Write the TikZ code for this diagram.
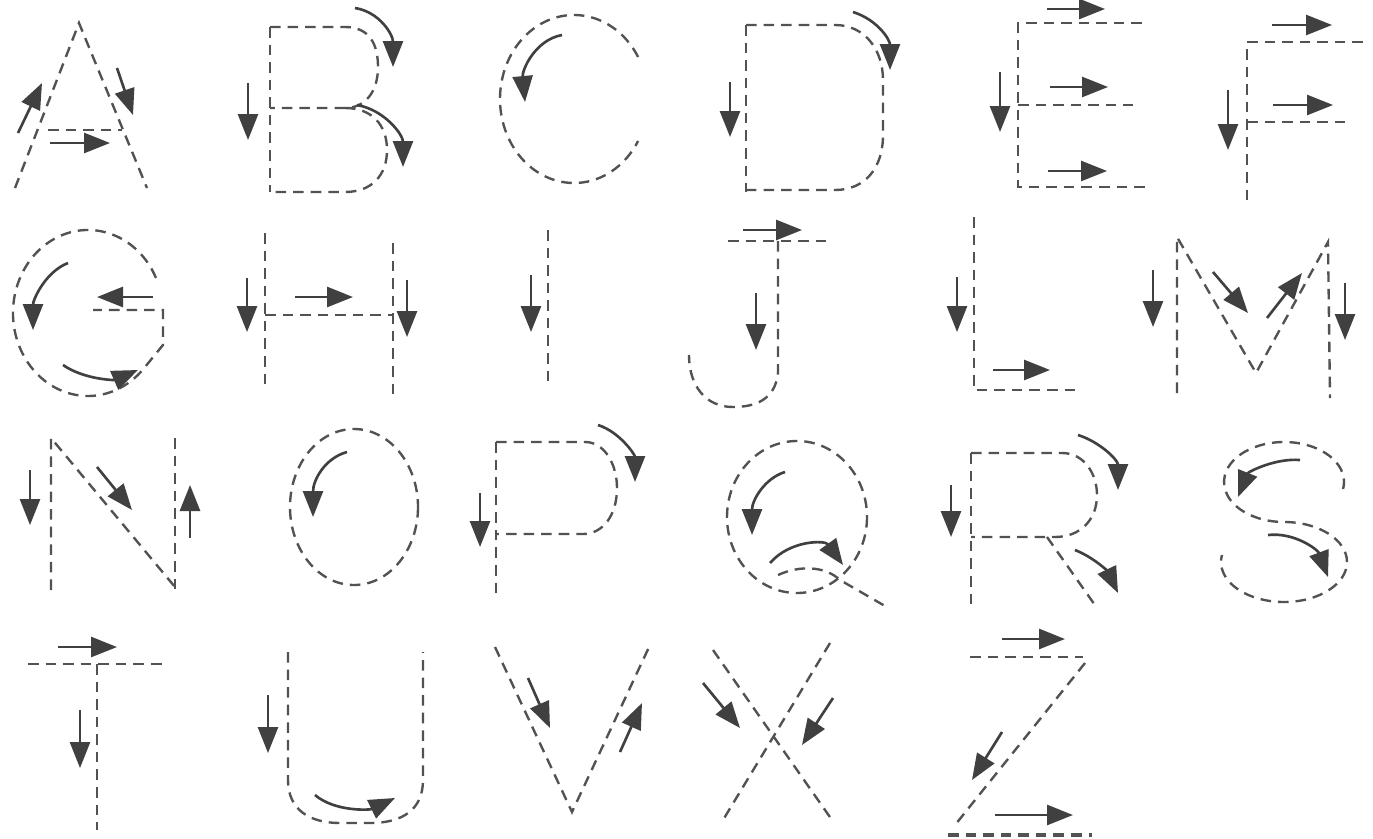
\documentclass[tikz,border=0pt]{standalone}
\usepackage{tikz}
\usetikzlibrary{arrows.meta}

\begin{document}
\begin{tikzpicture}[
    x=0.2mm, y=-0.2mm,
    guide/.style={draw=black!68, line width=1.35pt, dash pattern=on 6pt off 4pt},
    arrow/.style={-{Triangle[length=5.2mm, width=4mm]}, line width=1.5pt, draw=black!75}
]
    \useasboundingbox [fill=white] (0,0) rectangle (1373,838);

    % A
    \draw [guide] (15,188) -- (79,23) -- (147,188);
    \draw [guide] (48,130) -- (122,130);
    \draw [arrow] (18,133) -- (42,83);
    \draw [arrow] (117,68) -- (133,115);
    \draw [arrow] (50,143) -- (110,143);

    % B
    \draw [guide] (270,27) -- (270,192);
    \draw [guide] (270,27) -- (345,27) .. controls (370,27) and (378,45) .. (378,67)
        .. controls (378,92) and (365,108) .. (345,108) -- (270,108);
    \draw [guide] (345,108) .. controls (372,108) and (387,125) .. (387,150)
        .. controls (387,175) and (372,192) .. (345,192) -- (270,192);
    \draw [arrow] (248,83) -- (248,140);
    \draw [arrow] (355,8) .. controls (380,12) and (393,35) .. (393,67);
    \draw [arrow] (357,105) .. controls (385,110) and (403,135) .. (403,167);

    % C
    \draw [guide] (574,99) ++(-30:74 and 84) arc [start angle=-30, end angle=-330, x radius=74, y radius=84];
    \draw [arrow] (562,35) .. controls (535,40) and (522,70) .. (525,102);

    % D
    \draw [guide] (746,25) -- (746,192);
    \draw [guide] (746,25) -- (835,25) .. controls (865,25) and (883,50) .. (883,80) -- (883,135)
        .. controls (883,168) and (865,190) .. (835,190) -- (746,190);
    \draw [arrow] (730,82) -- (730,137);
    \draw [arrow] (853,12) .. controls (878,20) and (890,40) .. (890,70);

    % E
    \draw [guide] (1142,23) -- (1018,23) -- (1018,187) -- (1147,187);
    \draw [guide] (1018,105) -- (1133,105);
    \draw [arrow] (1047,9) -- (1105,9);
    \draw [arrow] (1050,87) -- (1108,87);
    \draw [arrow] (1048,171) -- (1107,171);
    \draw [arrow] (1000,72) -- (1000,132);

    % F
    \draw [guide] (1363,42) -- (1247,42) -- (1247,203);
    \draw [guide] (1247,122) -- (1350,122);
    \draw [arrow] (1272,25) -- (1332,25);
    \draw [arrow] (1273,105) -- (1333,105);
    \draw [arrow] (1228,90) -- (1228,150);

    % G
    \draw [guide] (88,313) ++(-25:75 and 83) arc [start angle=-25, end angle=-318, x radius=75, y radius=83]
        -- (163,345) -- (163,310) -- (93,310);
    \draw [arrow] (68,263) .. controls (45,272) and (33,300) .. (33,330);
    \draw [arrow] (153,297) -- (97,297);
    \draw [arrow] (63,365) .. controls (85,380) and (115,380) .. (138,370);

    % H
    \draw [guide] (265,233) -- (265,387);
    \draw [guide] (393,243) -- (393,398);
    \draw [guide] (265,315) -- (393,315);
    \draw [arrow] (247,278) -- (247,332);
    \draw [arrow] (295,297) -- (353,297);
    \draw [arrow] (407,280) -- (407,337);

    % I
    \draw [guide] (548,230) -- (548,388);
    \draw [arrow] (531,275) -- (531,332);

    % J
    \draw [guide] (728,241) -- (832,241);
    \draw [guide] (778,241) -- (778,373) .. controls (775,400) and (755,407) .. (733,407)
        .. controls (705,407) and (689,385) .. (689,355);
    \draw [arrow] (743,230) -- (802,230);
    \draw [arrow] (756,293) -- (756,350);

    % L
    \draw [guide] (974,217) -- (974,390) -- (1077,390);
    \draw [arrow] (957,277) -- (957,332);
    \draw [arrow] (993,370) -- (1050,370);

    % M
    \draw [guide] (1177,393) -- (1177,237) -- (1256,373) -- (1328,242) -- (1330,398);
    \draw [arrow] (1153,270) -- (1153,327);
    \draw [arrow] (1213,272) -- (1248,313);
    \draw [arrow] (1267,318) -- (1302,273);
    \draw [arrow] (1345,283) -- (1345,340);

    % N
    \draw [guide] (51,590) -- (51,438) -- (175,587);
    \draw [guide] (175,438) -- (175,590);
    \draw [arrow] (30,470) -- (30,525);
    \draw [arrow] (97,467) -- (132,510);
    \draw [arrow] (190,538) -- (190,485);

    % O
    \draw [guide] (354,507) ellipse [x radius=64, y radius=78];
    \draw [arrow] (347,452) .. controls (325,458) and (313,480) .. (313,517);

    % P
    \draw [guide] (496,442) -- (496,597);
    \draw [guide] (496,442) -- (585,442) .. controls (605,442) and (617,465) .. (617,488)
        .. controls (617,515) and (603,534) .. (583,534) -- (496,534);
    \draw [arrow] (480,493) -- (480,547);
    \draw [arrow] (598,425) .. controls (620,432) and (635,455) .. (635,482);

    % Q
    \draw [guide] (797,517) ellipse [x radius=70, y radius=76];
    \draw [guide] (778,575) .. controls (800,565) and (825,566) .. (840,580) -- (885,606);
    \draw [arrow] (785,472) .. controls (765,478) and (752,500) .. (752,535);
    \draw [arrow] (770,563) .. controls (790,540) and (825,540) .. (843,565);

    % R
    \draw [guide] (971,453) -- (971,607);
    \draw [guide] (971,453) -- (1062,453) .. controls (1085,453) and (1097,475) .. (1097,495)
        .. controls (1097,520) and (1080,537) .. (1055,537) -- (971,537);
    \draw [guide] (1047,537) -- (1097,608);
    \draw [arrow] (951,485) -- (951,537);
    \draw [arrow] (1078,435) .. controls (1100,442) and (1118,460) .. (1118,490);
    \draw [arrow] (1075,550) .. controls (1095,558) and (1108,572) .. (1118,593);

    % S
    \draw [guide] (1284,482) ++(10:60 and 40) arc [start angle=10, end angle=-270, x radius=60, y radius=40]
        arc [start angle=-90, end angle=190, x radius=63, y radius=40];
    \draw [arrow] (1300,460) .. controls (1275,458) and (1248,472) .. (1238,497);
    \draw [arrow] (1268,535) .. controls (1295,532) and (1318,550) .. (1328,577);

    % T
    \draw [guide] (28,664) -- (165,664);
    \draw [guide] (97,664) -- (97,830);
    \draw [arrow] (58,647) -- (117,647);
    \draw [arrow] (80,710) -- (80,768);

    % U
    \draw [guide] (288,652) -- (288,780) .. controls (288,810) and (310,823) .. (340,823) -- (370,823)
        .. controls (402,823) and (423,810) .. (423,780) -- (423,652);
    \draw [arrow] (268,695) -- (268,753);
    \draw [arrow] (315,795) .. controls (335,812) and (370,810) .. (395,798);

    % V
    \draw [guide] (495,647) -- (572,812) -- (650,645);
    \draw [arrow] (528,678) -- (550,728);
    \draw [arrow] (620,752) -- (642,703);

    % X
    \draw [guide] (713,650) -- (832,820);
    \draw [guide] (830,643) -- (723,820);
    \draw [arrow] (703,683) -- (740,728);
    \draw [arrow] (833,698) -- (802,745);

    % Z
    \draw [guide] (970,657) -- (1083,657);
    \draw [guide] (1085,663) -- (955,825);
    \draw [guide, line width=2pt] (948,835) -- (1092,835);
    \draw [arrow] (1002,639) -- (1065,639);
    \draw [arrow] (1002,732) -- (972,780);
    \draw [arrow] (995,815) -- (1073,815);
\end{tikzpicture}
\end{document}
